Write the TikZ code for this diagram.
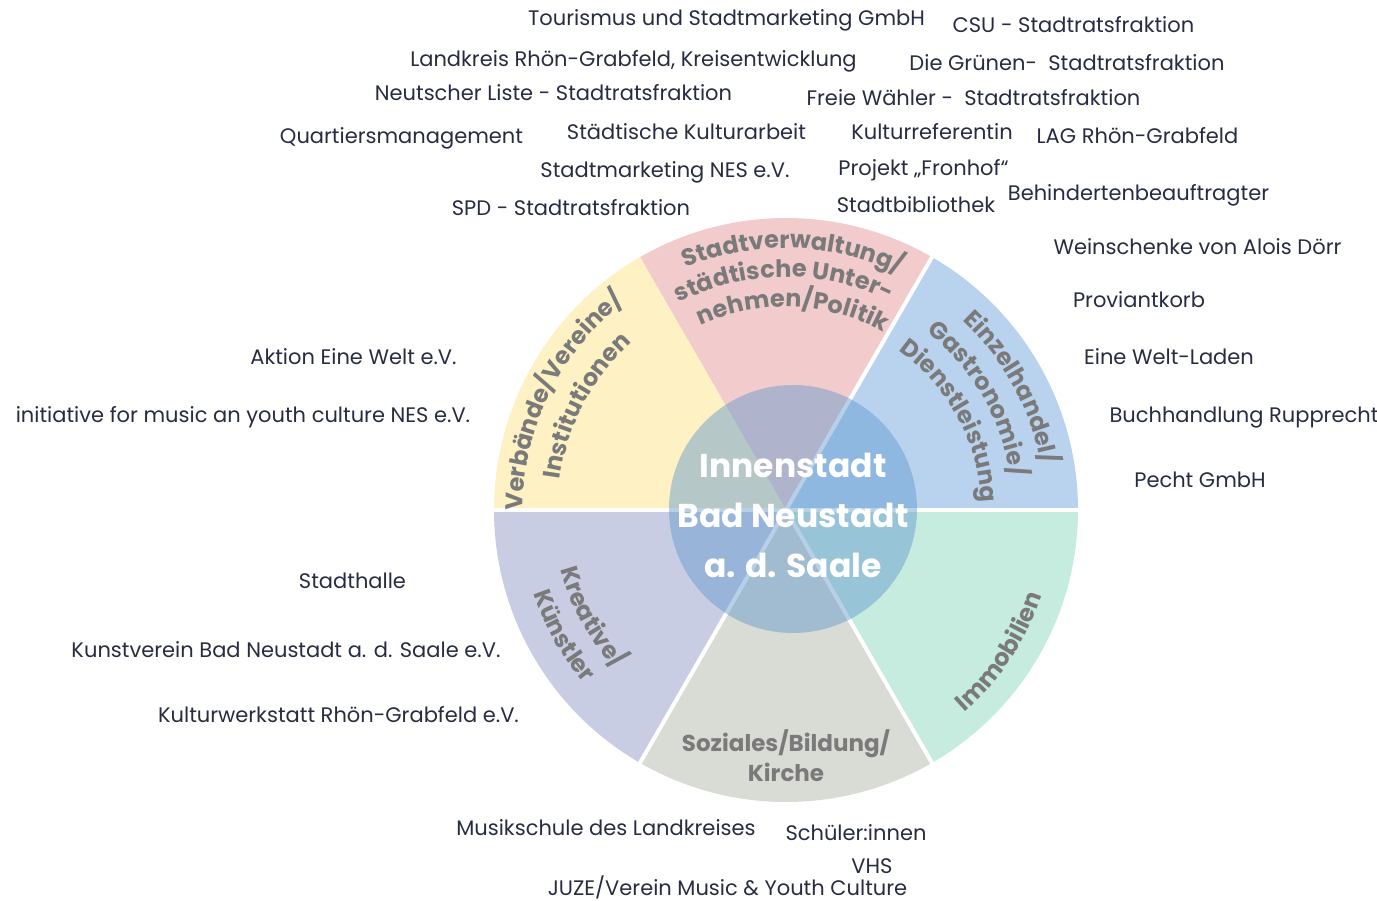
\documentclass[tikz,border=0pt]{standalone}
\usepackage{fontspec}
\setmainfont{Poppins}
\usetikzlibrary{decorations.text}

\definecolor{rosa}{RGB}{242,203,204}
\definecolor{hellblau}{RGB}{185,211,239}
\definecolor{mint}{RGB}{198,235,223}
\definecolor{steingrau}{RGB}{217,219,213}
\definecolor{lavendel}{RGB}{200,205,227}
\definecolor{gelb}{RGB}{254,241,195}
\definecolor{kern}{RGB}{94,152,206}
\definecolor{sektortext}{RGB}{122,122,122}
\definecolor{tinte}{RGB}{40,44,66}

\newcommand{\sektorfont}{\fontsize{23}{30}\selectfont\bfseries}
\newcommand{\bogenfont}{\fontsize{24}{30}\selectfont\bfseries}
\newcommand{\aussenfont}{\fontsize{21}{25}\selectfont}

\tikzset{
  bogentext/.style={decorate, decoration={text along path, text align=center,
      text color=sektortext, text={|\bogenfont|#1}}},
}

\begin{document}
\begin{tikzpicture}[x=1pt,y=1pt]
		\useasboundingbox (-786,-391) rectangle (591,510);

		% sektoren
		\foreach \farbe/\von in {hellblau/0, rosa/60, gelb/120, lavendel/180, steingrau/240, mint/300}
			\fill[\farbe] (0,0) -- (\von:292pt) arc[start angle=\von, delta angle=60, radius=292pt] -- cycle;
		\foreach \w in {0,60,180,240,300}
			\draw[white, line width=4pt] (0,0) -- (\w:296pt);

		% kern
		\fill[kern, fill opacity=0.45] (7,1) circle[radius=124pt];
		\node[text=white, font=\fontsize{33}{50}\selectfont\bfseries, align=center] (innenstadt) at (7,-5)
			{Innenstadt\\Bad Neustadt\\a. d. Saale};

		% sektortitel
		\path[bogentext={Stadtverwaltung/}] (128.5:262pt) arc[start angle=128.5, end angle=48.5, radius=262pt];
		\path[bogentext={städtische Unter-}] (130.5:233pt) arc[start angle=130.5, end angle=50.5, radius=233pt];
		\path[bogentext={nehmen/Politik}] (128:203pt) arc[start angle=128, end angle=48, radius=203pt];

		\path[bogentext={Verbände/Vereine/}] (194:263pt) arc[start angle=194, end angle=114, radius=263pt];
		\path[bogentext={Institutionen}] (192.5:228pt) arc[start angle=192.5, end angle=112.5, radius=228pt];

		\path[bogentext={Einzelhandel/}] (68.5:259pt) arc[start angle=68.5, end angle=-11.5, radius=259pt];
		\path[bogentext={Gastronomie/}] (70:227pt) arc[start angle=70, end angle=-10, radius=227pt];
		\path[bogentext={Dienstleistung}] (68.5:195pt) arc[start angle=68.5, end angle=-11.5, radius=195pt];

		\path[bogentext={Kreative/}] (169:233pt) arc[start angle=169, end angle=249, radius=233pt];
		\path[bogentext={Künstler}] (169.5:266pt) arc[start angle=169.5, end angle=249.5, radius=266pt];

		\path[bogentext={Immobilien}] (-73.5:270pt) arc[start angle=-73.5, end angle=6.5, radius=270pt];

		\node[text=sektortext, font=\sektorfont, align=center] (soziales) at (0,-246)
			{Soziales/Bildung/\\Kirche};

		% akteure
		\begin{scope}[every node/.style={font=\aussenfont, text=tinte, inner sep=0pt,
				text height=15pt, text depth=0pt}]
			\node (tourismus) at (-59.5,492) {Tourismus und Stadtmarketing GmbH};
			\node (csu) at (287.5,485) {CSU - Stadtratsfraktion};
			\node (landkreis) at (-152.5,451) {Landkreis Rhön-Grabfeld, Kreisentwicklung};
			\node (gruene) at (281,447) {Die Grünen-~ Stadtratsfraktion};
			\node (neutscher) at (-232.5,417) {Neutscher Liste - Stadtratsfraktion};
			\node (waehler) at (187.5,412) {Freie Wähler -~ Stadtratsfraktion};
			\node (quartier) at (-384.5,374) {Quartiersmanagement};
			\node (kulturarbeit) at (-99.5,378) {Städtische Kulturarbeit};
			\node (referentin) at (146,378) {Kulturreferentin};
			\node (lag) at (351.5,374) {LAG Rhön-Grabfeld};
			\node (nes) at (-121,340) {Stadtmarketing NES e.V.};
			\node (fronhof) at (137.5,342) {Projekt „Fronhof“};
			\node (spd) at (-215,302) {SPD - Stadtratsfraktion};
			\node (bibliothek) at (130,305) {Stadtbibliothek};
			\node (beauftragter) at (352.5,317) {Behindertenbeauftragter};
			\node (weinschenke) at (411.5,263) {Weinschenke von Alois Dörr};
			\node (proviant) at (353,210) {Proviantkorb};
			\node (weltladen) at (383,153) {Eine Welt-Laden};
			\node (buchhandlung) at (458,95) {Buchhandlung Rupprecht};
			\node (pecht) at (414,30) {Pecht GmbH};
			\node (aktion) at (-432.5,153) {Aktion Eine Welt e.V.};
			\node (initiative) at (-543,95) {initiative for music an youth culture NES e.V.};
			\node (stadthalle) at (-433.5,-71) {Stadthalle};
			\node (kunstverein) at (-500,-140) {Kunstverein Bad Neustadt a. d. Saale e.V.};
			\node (werkstatt) at (-447.5,-205) {Kulturwerkstatt Rhön-Grabfeld e.V.};
			\node (musikschule) at (-180,-318) {Musikschule des Landkreises};
			\node (schueler) at (70,-323) {Schüler:innen};
			\node (vhs) at (86,-356) {VHS};
			\node (juze) at (-58.5,-378) {JUZE/Verein Music \& Youth Culture};
		\end{scope}
	\end{tikzpicture}
\end{document}
